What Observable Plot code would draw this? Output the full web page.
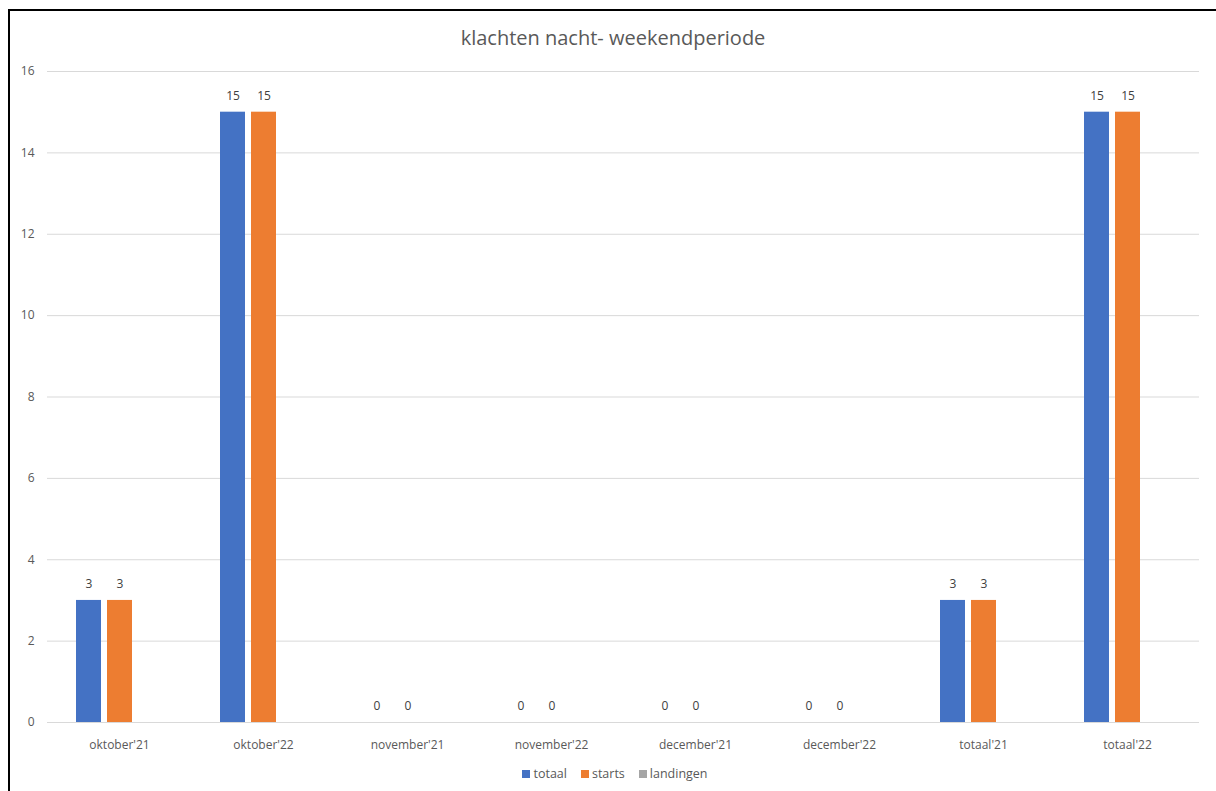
<!DOCTYPE html>
<html>
<head>
<meta charset="utf-8">
<script src="https://cdn.jsdelivr.net/npm/d3@7"></script>
<script src="https://cdn.jsdelivr.net/npm/@observablehq/plot@0.6"></script>
<style>
  html, body { margin: 0; padding: 0; background: #fff; overflow: hidden; width: 1216px; height: 791px; }
  #frame { position: absolute; left: 8px; top: 9px; width: 1400px; height: 1000px; border: 2px solid #000; box-sizing: border-box; }
  #title { position: absolute; left: 0; top: 24px; width: 1226px; text-align: center; font-family: "Open Sans", sans-serif; font-size: 20px; color: #595959; }
  #chart { position: absolute; left: 0; top: 50px; }
  #legend { position: absolute; left: 0; top: 765px; width: 1230px; text-align: center; font-family: "Open Sans", sans-serif; font-size: 12.5px; color: #595959; }
  #legend span.item { display: inline-block; margin: 0 7px; }
  #legend span.sw { display: inline-block; width: 8px; height: 8px; margin-right: 3px; vertical-align: 0px; }
</style>
</head>
<body>
<div id="frame"></div>
<div id="title">klachten nacht- weekendperiode</div>
<div id="chart"></div>
<div id="legend"></div>
<script>
const categories = ["oktober'21", "oktober'22", "november'21", "november'22", "december'21", "december'22", "totaal'21", "totaal'22"];
const seriesNames = ["totaal", "starts", "landingen"];
const seriesColors = ["#4472C4", "#ED7D31", "#A5A5A5"];
const totaal = [3, 15, 0, 0, 0, 0, 3, 15];
const starts = [3, 15, 0, 0, 0, 0, 3, 15];
const landingen = [null, null, null, null, null, null, null, null];
const yTicks = [0, 2, 4, 6, 8, 10, 12, 14, 16];

const seriesValues = [totaal, starts, landingen];
const data = categories.flatMap((c, i) =>
  seriesNames.map((s, j) => ({category: c, series: s, value: seriesValues[j][i]}))
);

const chart = Plot.plot({
  width: 1216,
  height: 710,
  marginLeft: 47,
  marginRight: 17,
  marginTop: 21,
  marginBottom: 38,
  style: {fontFamily: "Open Sans, sans-serif", fontSize: "12px", color: "#595959", background: "transparent"},
  fx: {domain: categories, padding: 0, label: null, axis: "bottom", tickSize: 0, tickPadding: 18},
  x: {domain: seriesNames, paddingInner: 0.2, paddingOuter: 0.89, axis: null},
  y: {domain: [0, 16], ticks: yTicks, label: null, tickSize: 0, tickPadding: 13},
  color: {domain: seriesNames, range: seriesColors},
  marks: [
    Plot.ruleY(yTicks, {stroke: "#d9d9d9", strokeWidth: 1}),
    Plot.barY(data.filter(d => d.value != null), {fx: "category", x: "series", y: "value", fill: "series"}),
    Plot.text(data.filter(d => d.value != null), {fx: "category", x: "series", y: "value", text: d => String(d.value), dy: -16, fill: "#404040", fontSize: 12})
  ]
});
document.getElementById("chart").appendChild(chart);

const legend = document.getElementById("legend");
seriesNames.forEach((s, i) => {
  const item = document.createElement("span");
  item.className = "item";
  const sw = document.createElement("span");
  sw.className = "sw";
  sw.style.background = seriesColors[i];
  item.appendChild(sw);
  item.appendChild(document.createTextNode(s));
  legend.appendChild(item);
});
</script>
</body>
</html>
